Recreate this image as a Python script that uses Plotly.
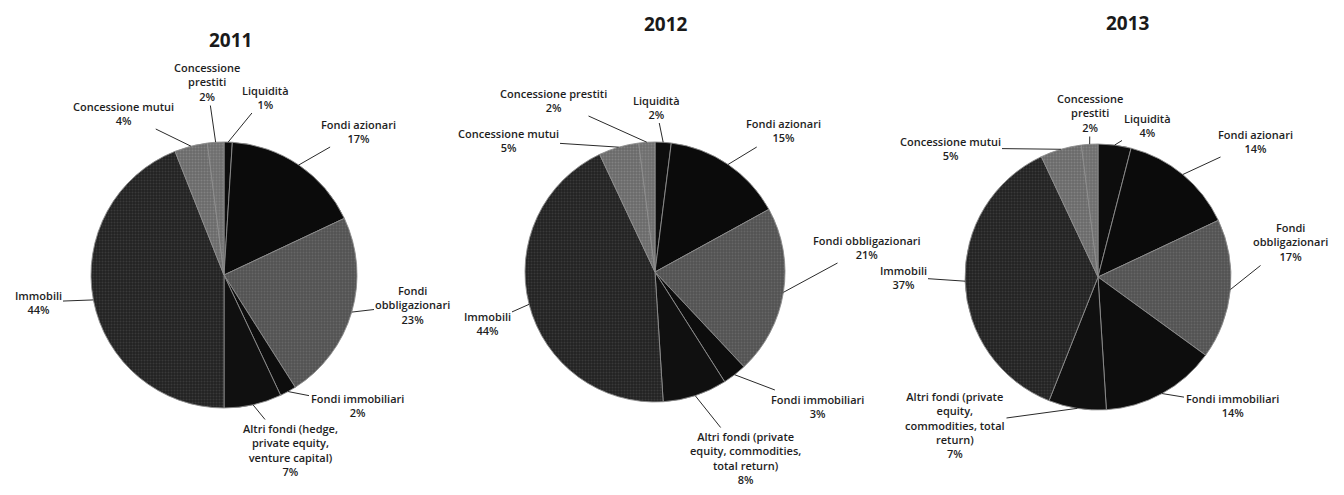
import math
import plotly.graph_objects as go

PAGE_MARGIN = 8
FW, FH = 1336, 479

categories = ["Liquidità", "Fondi azionari", "Fondi obbligazionari", "Fondi immobiliari",
              "Altri fondi", "Immobili", "Concessione mutui", "Concessione prestiti"]

years = ["2011", "2012", "2013"]
values_2011 = [1, 17, 23, 2, 7, 44, 4, 2]
values_2012 = [2, 15, 21, 3, 8, 44, 5, 2]
values_2013 = [4, 14, 17, 14, 7, 37, 5, 2]

label_text_2011 = ["Liquidità", "Fondi azionari", "Fondi<br>obbligazionari", "Fondi immobiliari",
                   "Altri fondi (hedge,<br>private equity,<br>venture capital)", "Immobili",
                   "Concessione mutui", "Concessione<br>prestiti"]
label_text_2012 = ["Liquidità", "Fondi azionari", "Fondi obbligazionari", "Fondi immobiliari",
                   "Altri fondi (private<br>equity, commodities,<br>total return)", "Immobili",
                   "Concessione mutui", "Concessione prestiti"]
label_text_2013 = ["Liquidità", "Fondi azionari", "Fondi<br>obbligazionari", "Fondi immobiliari",
                   "Altri fondi (private<br>equity,<br>commodities, total<br>return)", "Immobili",
                   "Concessione mutui", "Concessione<br>prestiti"]

colors = ["#0d0d0d", "#0b0b0b", "#525252", "#0d0d0d", "#101010", "#222222", "#6a6a6a", "#6e6e6e"]
speckle_shapes = ["", "", ".", "", "", ".", ".", "."]
speckle_colors = ["#0d0d0d", "#0b0b0b", "#666666", "#0d0d0d", "#101010", "#393939", "#828282", "#828282"]

pie_geom = {
    "2011": dict(cx=224, cy=275, r=133, title=(230, 40),
                 labels=[(265, 97), (358, 131), (413, 305), (357, 405), (290, 450),
                         (38, 302), (123, 113), (207, 82)]),
    "2012": dict(cx=655, cy=272, r=130, title=(666, 24),
                 labels=[(656, 107), (783, 131), (867, 247), (817, 406), (745, 458),
                         (487, 323), (508, 140), (553, 100)]),
    "2013": dict(cx=1098, cy=277, r=133, title=(1128, 23),
                 labels=[(1147, 125), (1255, 141), (1290, 242), (1232, 405), (955, 425),
                         (903, 277), (950, 148), (1090, 113)]),
}

data = {"2011": (values_2011, label_text_2011),
        "2012": (values_2012, label_text_2012),
        "2013": (values_2013, label_text_2013)}


def fx(x):
    return x - PAGE_MARGIN


def fy(y):
    return y - PAGE_MARGIN


FONT = "Open Sans"
fig = go.Figure()
annotations = []

for yr in years:
    vals, texts = data[yr]
    g = pie_geom[yr]
    cx, cy, r = fx(g["cx"]), fy(g["cy"]), g["r"]
    fig.add_trace(go.Pie(
        labels=categories, values=vals, sort=False, direction="clockwise", rotation=0,
        textinfo="none", hoverinfo="label+percent", showlegend=False,
        marker=dict(colors=colors, line=dict(color="#8c8c8c", width=0.9),
                    pattern=dict(shape=speckle_shapes, fgcolor=speckle_colors, bgcolor=colors,
                                 fillmode="replace", size=3, solidity=0.35)),
        domain=dict(x=[(cx - r) / FW, (cx + r) / FW], y=[1 - (cy + r) / FH, 1 - (cy - r) / FH]),
    ))
    tot = sum(vals)
    cum = 0.0
    for i, v in enumerate(vals):
        mid = (cum + v / 2) / tot
        cum += v
        ang = 2 * math.pi * mid
        tx = cx + r * math.sin(ang)
        ty = cy - r * math.cos(ang)
        lx, ly = fx(g["labels"][i][0]), fy(g["labels"][i][1])
        pct = round(100 * v / tot)
        annotations.append(dict(
            x=tx / FW, y=1 - ty / FH, xref="paper", yref="paper",
            ax=lx - tx, ay=ly - ty, axref="pixel", ayref="pixel",
            text=f"{texts[i]}<br>{pct}%", showarrow=True, arrowhead=0, arrowwidth=1,
            arrowcolor="#2a2a2a", standoff=0,
            font=dict(family=FONT, size=11, color="#1e1e1e", weight=600), align="center",
        ))
    tx, ty = fx(g["title"][0]), fy(g["title"][1])
    annotations.append(dict(x=tx / FW, y=1 - ty / FH, xref="paper", yref="paper",
                            xanchor="center", yanchor="middle",
                            text=f"<b>{yr}</b>", showarrow=False,
                            font=dict(family=FONT, size=19, color="#1a1a1a")))

fig.update_layout(
    width=FW, height=FH, margin=dict(l=0, r=0, t=0, b=0),
    paper_bgcolor="white", plot_bgcolor="white",
    annotations=annotations,
)
fig.write_html("out.html")
